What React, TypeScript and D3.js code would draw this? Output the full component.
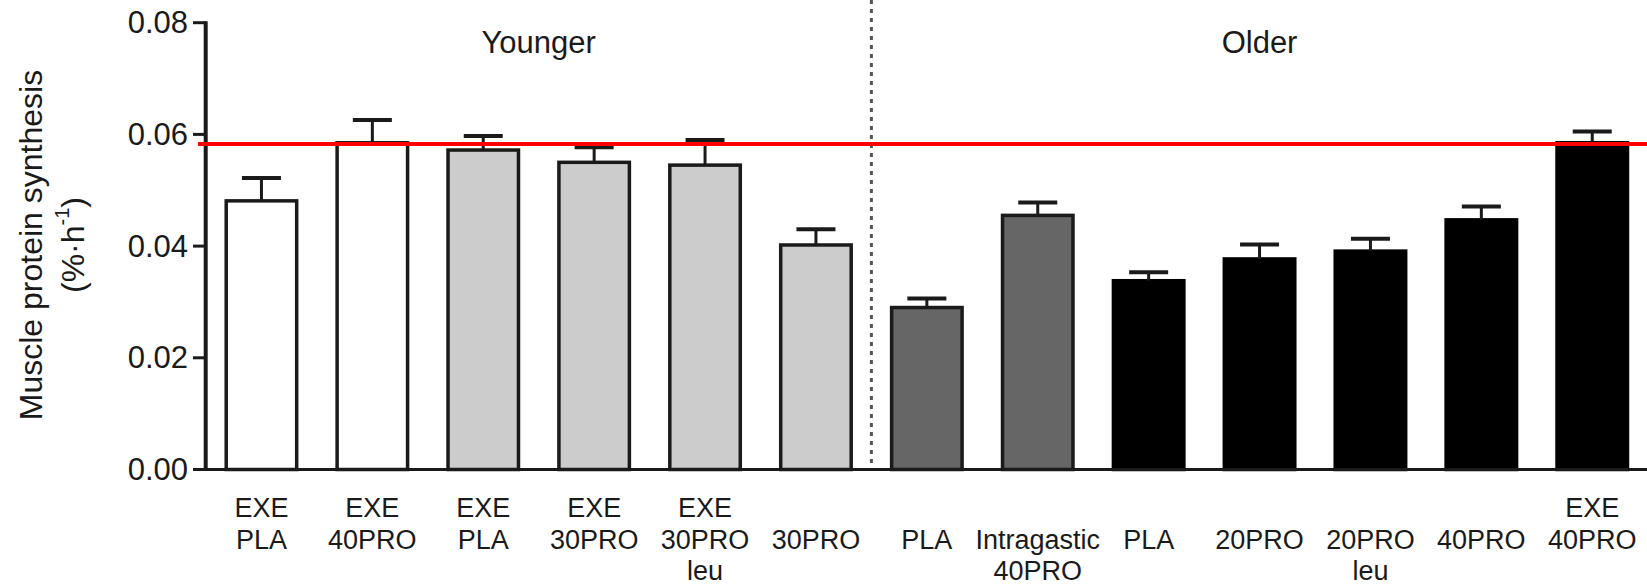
import React from "react";
import * as d3 from "d3";

// ---- data ----
const categoryLabels: string[][] = [
  ["EXE", "PLA"],
  ["EXE", "40PRO"],
  ["EXE", "PLA"],
  ["EXE", "30PRO"],
  ["EXE", "30PRO", "leu"],
  ["30PRO"],
  ["PLA"],
  ["Intragastic", "40PRO"],
  ["PLA"],
  ["20PRO"],
  ["20PRO", "leu"],
  ["40PRO"],
  ["EXE", "40PRO"],
];
const groupOf: string[] = [
  "Younger", "Younger", "Younger", "Younger", "Younger", "Younger",
  "Older", "Older", "Older", "Older", "Older", "Older", "Older",
];
const fillType: string[] = [
  "white", "white", "light", "light", "light", "light",
  "dark", "dark", "black", "black", "black", "black", "black",
];
const meanValues: number[] = [
  0.0481, 0.0585, 0.0572, 0.055, 0.0545, 0.0402,
  0.029, 0.0455, 0.0338, 0.0377, 0.0391, 0.0447, 0.0585,
];
const semValues: number[] = [
  0.0041, 0.0041, 0.0025, 0.0027, 0.0045, 0.0028,
  0.0016, 0.0023, 0.0015, 0.0026, 0.0022, 0.0024, 0.002,
];
const yTicks: number[] = [0, 0.02, 0.04, 0.06, 0.08];
const referenceLine = 0.0583;
const groupNames: string[] = ["Younger", "Older"];

const FILLS: Record<string, string> = {
  white: "#ffffff",
  light: "#cccccc",
  dark: "#666666",
  black: "#000000",
};

const W = 1647;
const H = 586;
const FONT = "'Liberation Sans', Arial, Helvetica, sans-serif";
const INK = "#1a1a1a";

export default function App() {
  const idx = categoryLabels.map((_, i) => String(i));
  const x = d3
    .scaleBand<string>()
    .domain(idx)
    .range([206, 1647.7])
    .paddingInner(0.333)
    .paddingOuter(0.1665);
  const y = d3.scaleLinear().domain([0, 0.08]).range([469.5, 22.7]);
  const bw = x.bandwidth();
  const barStroke = 3.5;

  // dividing line between groups
  const lastYoung = groupOf.lastIndexOf("Younger");
  const divX =
    ((x(String(lastYoung)) as number) + bw + (x(String(lastYoung + 1)) as number)) / 2;

  const groupCenters = groupNames.map((g) => {
    const first = groupOf.indexOf(g);
    const last = groupOf.lastIndexOf(g);
    return ((x(String(first)) as number) + (x(String(last)) as number) + bw) / 2;
  });

  const mainRowY = 539.5;
  const lineGap = 31.5;

  return (
    <svg
      width={W}
      height={H}
      viewBox={`0 0 ${W} ${H}`}
      style={{ position: "absolute", left: 0, top: 0, display: "block", background: "#fff" }}
    >
      <rect x={0} y={0} width={W} height={H} fill="#fff" />

      {/* dotted divider */}
      <line
        x1={divX}
        x2={divX}
        y1={0}
        y2={y(0)}
        stroke="#555"
        strokeWidth={3}
        strokeDasharray="4 5"
      />

      {/* bars */}
      {meanValues.map((v, i) => {
        const bx = x(String(i)) as number;
        return (
          <rect
            key={"b" + i}
            x={bx + barStroke / 2}
            y={y(v)}
            width={bw - barStroke}
            height={y(0) - y(v)}
            fill={FILLS[fillType[i]]}
            stroke={fillType[i] === "black" ? "#000" : INK}
            strokeWidth={barStroke}
          />
        );
      })}

      {/* error bars */}
      {meanValues.map((v, i) => {
        const cx = (x(String(i)) as number) + bw / 2;
        const top = y(v + semValues[i]);
        return (
          <g key={"e" + i} stroke={INK}>
            <line x1={cx} x2={cx} y1={y(v)} y2={top} strokeWidth={3} />
            <line x1={cx - 19.5} x2={cx + 19.5} y1={top} y2={top} strokeWidth={4} />
          </g>
        );
      })}

      {/* axes */}
      <line x1={205.7} x2={205.7} y1={y(0.08) - 1.5} y2={y(0) + 1.5} stroke={INK} strokeWidth={4} />
      <line x1={193} x2={1647} y1={y(0)} y2={y(0)} stroke={INK} strokeWidth={3} />
      {yTicks.map((t) => (
        <g key={"t" + t}>
          <line x1={193} x2={206} y1={y(t)} y2={y(t)} stroke={INK} strokeWidth={3} />
          <text
            x={188}
            y={y(t)}
            textAnchor="end"
            dominantBaseline="central"
            fontFamily={FONT}
            fontSize={31}
            fill={INK}
          >
            {t.toFixed(2)}
          </text>
        </g>
      ))}

      {/* reference line */}
      <line
        x1={198}
        x2={1647}
        y1={y(referenceLine)}
        y2={y(referenceLine)}
        stroke="#ff0000"
        strokeWidth={4}
      />

      {/* group titles */}
      {groupNames.map((g, gi) => (
        <text
          key={"g" + g}
          x={groupCenters[gi]}
          y={42}
          textAnchor="middle"
          dominantBaseline="central"
          fontFamily={FONT}
          fontSize={31}
          fill={INK}
        >
          {g}
        </text>
      ))}

      {/* category labels */}
      {categoryLabels.map((lines, i) => {
        const cx = (x(String(i)) as number) + bw / 2;
        const mainIdx = lines.findIndex((l) => l !== "EXE");
        return (
          <g key={"c" + i}>
            {lines.map((l, li) => (
              <text
                key={li}
                x={cx}
                y={mainRowY + (li - mainIdx) * lineGap}
                textAnchor="middle"
                dominantBaseline="central"
                fontFamily={FONT}
                fontSize={27}
                fill={INK}
              >
                {l}
              </text>
            ))}
          </g>
        );
      })}

      {/* y-axis title */}
      <text
        transform="translate(31,245) rotate(-90)"
        textAnchor="middle"
        dominantBaseline="central"
        fontFamily={FONT}
        fontSize={32}
        fill={INK}
      >
        Muscle protein synthesis
      </text>
      <text
        transform="translate(73,245) rotate(-90)"
        textAnchor="middle"
        dominantBaseline="central"
        fontFamily={FONT}
        fontSize={32}
        fill={INK}
      >
        (%·h
        <tspan fontSize={20} dy={-11}>
          -1
        </tspan>
        <tspan dy={11}>)</tspan>
      </text>
    </svg>
  );
}
